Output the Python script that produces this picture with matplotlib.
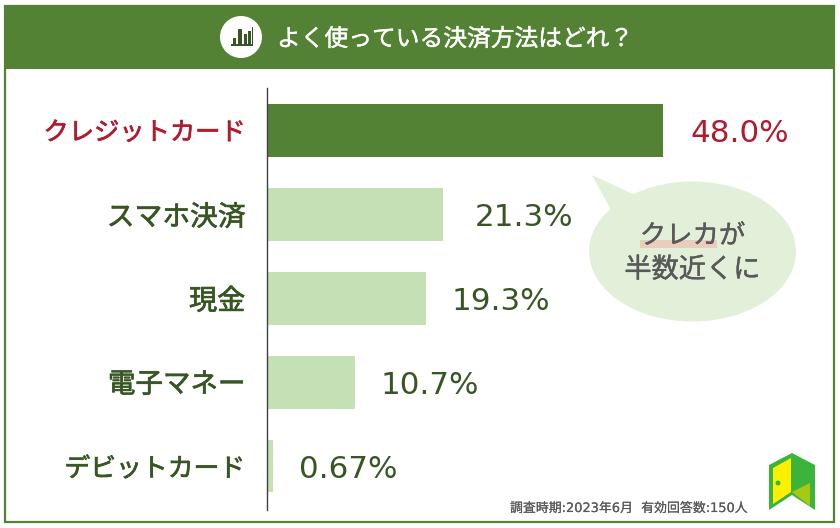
import matplotlib
matplotlib.use("Agg")
import matplotlib.pyplot as plt
import matplotlib.patheffects as pe
from matplotlib.patches import Rectangle, Polygon, Ellipse, Circle

categories = ["クレジットカード", "スマホ決済", "現金", "電子マネー", "デビットカード"]
values = [48.0, 21.3, 19.3, 10.7, 0.67]
value_labels = ["48.0%", "21.3%", "19.3%", "10.7%", "0.67%"]

FONT = "Noto Sans CJK JP"
MIXED = ["DejaVu Sans", FONT]
plt.rcParams["font.family"] = FONT
GREEN = "#548235"
LIGHT = "#C5E0B4"
RED = "#B01C2E"
DARK = "#375623"
GREY = "#595959"
W, H = 840, 528

def thicken(color, lw=0.5):
    return [pe.withStroke(linewidth=lw, foreground=color)]

fig = plt.figure(figsize=(W / 100, H / 100), dpi=100, facecolor="white")

# overlay in pixel coordinates for decoration
bg = fig.add_axes([0, 0, 1, 1], zorder=0)
bg.set_xlim(0, W); bg.set_ylim(H, 0); bg.axis("off")
bg.add_patch(Rectangle((5, 6), 829, 516, fc="white", ec=GREEN, lw=1.6))
bg.add_patch(Rectangle((4, 6), 831, 63, fc=GREEN, ec="none"))
bg.add_patch(Circle((241, 37), 21, fc="white", ec="none"))
for x, top_y, w in [(233, 38, 3.2), (238, 29, 3.8), (243.5, 34, 3.2), (248, 31, 2.6)]:
    bg.add_patch(Rectangle((x, top_y), w, 44 - top_y, fc=DARK, ec="none"))
bg.add_patch(Rectangle((231, 44), 22, 1.8, fc=DARK, ec="none"))
bg.add_patch(Rectangle((251.5, 27), 1.5, 18, fc=DARK, ec="none"))
bg.text(277, 37, "よく使っている決済方法はどれ？", color="white", fontsize=17.1,
        ha="left", va="center_baseline", path_effects=thicken("white", 0.3))

# main chart
ax = fig.add_axes([267 / W, 1 - 510 / H, (W - 267) / W, (510 - 88) / H], zorder=1)
ax.patch.set_alpha(0)
ax.set_xlim(0, (W - 267) / 8.25)
ax.set_ylim(4 + 44 / 84, -0.5)
colors = [GREEN, LIGHT, LIGHT, LIGHT, LIGHT]
ypos = list(range(len(categories)))
ax.barh(ypos, values, height=53 / 84, color=colors, zorder=2)
for s in ["top", "right", "bottom"]:
    ax.spines[s].set_visible(False)
ax.spines["left"].set_color("#404040")
ax.spines["left"].set_linewidth(1.0)
ax.spines["left"].set_zorder(3)
ax.set_xticks([])
ax.set_yticks(ypos)
ax.set_yticklabels(categories)
ax.tick_params(axis="y", length=0, pad=15.5)
label_sizes = [18.2, 20, 20.3, 19.8, 18.6]
for i, lab in enumerate(ax.get_yticklabels()):
    c = RED if i == 0 else DARK
    lab.set_color(c)
    lab.set_fontsize(label_sizes[i])
    lab.set_path_effects(thicken(c, 0.5))
offsets = [27, 32, 25, 25, 26]
for i, (v, t, o) in enumerate(zip(values, value_labels, offsets)):
    ax.annotate(t, (v, i), xytext=(o * 0.72, 0), textcoords="offset points",
                ha="left", va="center_baseline", fontsize=22.3, family=MIXED,
                color=RED if i == 0 else DARK)

# callout
top = fig.add_axes([0, 0, 1, 1], zorder=2)
top.set_xlim(0, W); top.set_ylim(H, 0); top.axis("off")
CALL = "#E2F0D9"
top.add_patch(Ellipse((692.5, 251.5), 207, 140, fc=CALL, ec="none"))
top.add_patch(Polygon([(592, 175), (635, 195), (611, 210)], fc=CALL, ec="none"))
top.add_patch(Rectangle((640, 240), 77, 8, fc="#E9CDBD", ec="none"))
top.text(692.5, 233, "クレカが", fontsize=19, color=GREY, ha="center", va="center_baseline",
         path_effects=thicken(GREY, 0.3))
top.text(692.5, 267, "半数近くに", fontsize=19.6, color=GREY, ha="center", va="center_baseline",
         path_effects=thicken(GREY, 0.3))

# footnote
top.text(510, 507, "調査時期:2023年6月  有効回答数:150人", fontsize=9.3, color=GREY,
         family=MIXED, ha="left", va="center_baseline", path_effects=thicken(GREY, 0.1))

# door logo
top.add_patch(Polygon([(769, 465), (792, 453), (792, 495), (769, 510)], fc="#3CB43C", ec="none"))
top.add_patch(Polygon([(792, 453), (815, 465), (815, 510), (792, 495)], fc="#3CB43C", ec="none"))
top.add_patch(Polygon([(773, 468), (791, 458), (791, 492), (773, 504)], fc="#FFF000", ec="none"))
top.add_patch(Polygon([(792, 492), (810, 483), (810, 506)], fc="#A8C814", ec="none"))
top.add_patch(Circle((778, 483), 2.5, fc="#3CB43C", ec="none"))

fig.savefig("out.png", dpi=100)
